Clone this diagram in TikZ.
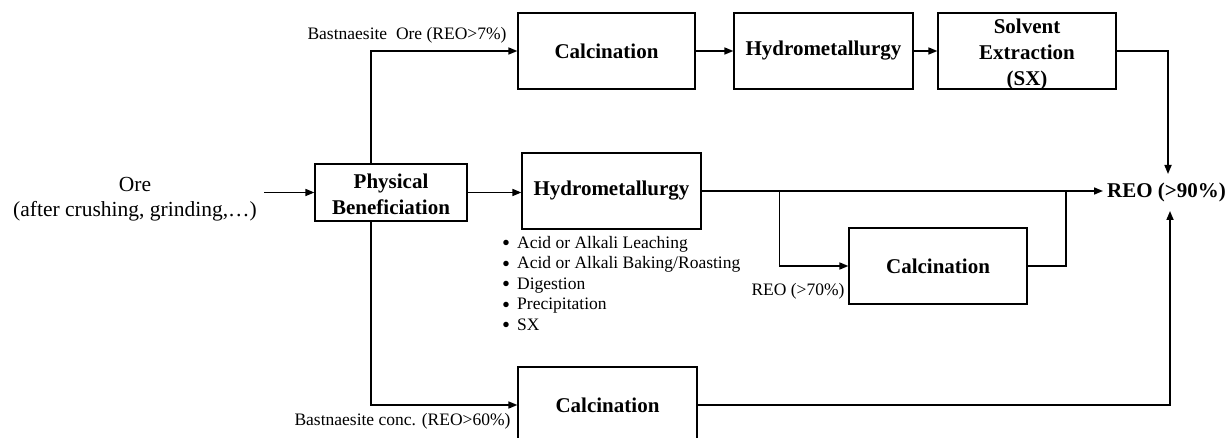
\documentclass[tikz,border=0pt]{standalone}
\usepackage{fontspec}
\setmainfont{Liberation Serif}
\usetikzlibrary{arrows.meta}
\newcommand{\blt}{\makebox[15pt][l]{\smash{\raisebox{-2.5pt}{\scalebox{1.3}{•}}}}}
\begin{document}
\begin{tikzpicture}[x=1pt,y=-1pt,
  box/.style={draw, line width=1.2pt, inner sep=0pt, align=center,
    font=\bfseries\fontsize{21}{26.5}\selectfont},
  btext/.style={inner sep=0pt, align=center, font=\bfseries\fontsize{21}{26}\selectfont},
  conn/.style={line width=1.6pt},
  arr/.style={conn, -{Triangle[length=9pt,width=7pt]}},
  lab/.style={inner sep=0pt, font=\fontsize{17.5}{20.5}\selectfont}]
\useasboundingbox (0,0) rectangle (1231,438);
% boxes
\node[box, minimum width=177pt, minimum height=76pt] (calc1) at (606.5,51) {Calcination};
\node[box, minimum width=179pt, minimum height=76pt] (hyd1) at (823.5,51) {Hydrometallurgy};
\node[box, minimum width=178pt, minimum height=76pt] (sx) at (1027,51) {};
\node[btext] (sxt) at ([yshift=-3pt]sx.center) {Solvent\\Extraction\\(SX)};
\node[box, minimum width=152pt, minimum height=57pt] (phys) at (391,192.5) {};
\node[btext] (physt) at ([yshift=-2pt]phys.center) {Physical\\Beneficiation};
\node[box, minimum width=179pt, minimum height=76pt] (hyd2) at (611.5,191) {Hydrometallurgy};
\node[box, minimum width=178pt, minimum height=76pt] (calc2) at (938,266) {Calcination};
\node[box, minimum width=179pt, minimum height=76pt] (calc3) at (607.5,405) {Calcination};
% texts
\node[inner sep=0pt, align=center, font=\fontsize{21.5}{24.5}\selectfont] (ore) at (135,199)
  {Ore\\(after crushing, grinding,…)};
\node[inner sep=0pt, anchor=west, font=\bfseries\fontsize{21}{26}\selectfont] (reo) at (1107,192) {REO (>90\%)};
\node[lab] (l1) at (407,35) {Bastnaesite\ \ Ore (REO>7\%)};
\node[lab] (l2) at (402.5,421) {Bastnaesite conc. (REO>60\%)};
\node[lab] (l3) at (798,291) {REO (>70\%)};
\node[lab, anchor=north west, align=left] (list) at (502,236)
  {\blt Acid or Alkali Leaching\\
   \blt Acid or Alkali Baking/Roasting\\
   \blt Digestion\\
   \blt Precipitation\\
   \blt SX};
% junction coordinates
\coordinate (reoT) at (1168,174);
\coordinate (reoB) at (1170,211);
\coordinate (j2) at (1066,191);
% connectors
\draw[arr] ([xshift=7pt]ore.east |- phys.west) -- (phys.west);
\draw[arr] (phys.east) -- (phys.east -| hyd2.west);
\draw[arr] ([xshift=-20pt]phys.north) |- (calc1.west);
\draw[arr] ([xshift=-20pt]phys.south) |- (calc3.west);
\draw[arr] (calc1.east) -- (hyd1.west);
\draw[arr] (hyd1.east) -- (sx.west);
\draw[arr] (sx.east) -| (reoT);
\draw[arr] (hyd2.east) -- ([xshift=-4pt]hyd2.east -| reo.west);
\draw[arr] ([xshift=78pt]hyd2.east) |- (calc2.west);
\draw[conn] (calc2.east) -| (j2);
\draw[arr] (calc3.east) -| (reoB);
\end{tikzpicture}
\end{document}
